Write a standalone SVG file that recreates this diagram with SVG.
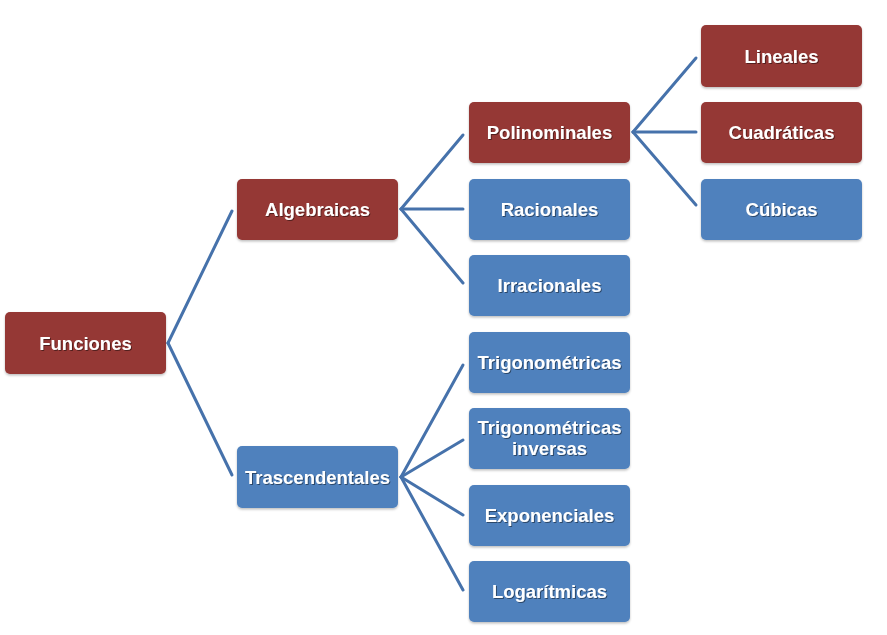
<svg xmlns="http://www.w3.org/2000/svg" width="887" height="635" viewBox="0 0 887 635">
<defs>
<filter id="ts" x="-10%" y="-30%" width="120%" height="160%">
<feDropShadow dx="1" dy="1" stdDeviation="0.6" flood-color="#000" flood-opacity="0.45"/>
</filter>
<filter id="bs" x="-5%" y="-10%" width="110%" height="125%">
<feDropShadow dx="0" dy="1.5" stdDeviation="1.2" flood-color="#000" flood-opacity="0.25"/>
</filter>
</defs>
<style>
.red{fill:#953735}
.blue{fill:#4F81BD}
rect{filter:url(#bs)}
text{font-family:"Liberation Sans",Arial,sans-serif;font-weight:bold;font-size:18.5px;fill:#fff;text-anchor:middle;filter:url(#ts)}
.c line{stroke:#4672AB;stroke-width:3;stroke-linecap:round}
</style>
<rect width="887" height="635" fill="#fff" style="filter:none"/>
<g class="c" id="connectors">
<line x1="168" y1="343" x2="232" y2="211"/>
<line x1="168" y1="343" x2="232" y2="475"/>
<line x1="401" y1="209" x2="463" y2="135"/>
<line x1="401" y1="209" x2="463" y2="209"/>
<line x1="401" y1="209" x2="463" y2="283"/>
<line x1="401" y1="477" x2="463" y2="365"/>
<line x1="401" y1="477" x2="463" y2="440"/>
<line x1="401" y1="477" x2="463" y2="515"/>
<line x1="401" y1="477" x2="463" y2="590"/>
<line x1="633" y1="132" x2="696" y2="58"/>
<line x1="633" y1="132" x2="696" y2="132"/>
<line x1="633" y1="132" x2="696" y2="205"/>
</g>
<g id="funciones"><rect class="red" x="5" y="312" width="161" height="62" rx="5"/><text x="85.5" y="349.5">Funciones</text></g>
<g id="algebraicas"><rect class="red" x="237" y="179" width="161" height="61" rx="5"/><text x="317.5" y="215.5">Algebraicas</text></g>
<g id="trascendentales"><rect class="blue" x="237" y="446" width="161" height="62" rx="5"/><text x="317.5" y="483.5">Trascendentales</text></g>
<g id="polinominales"><rect class="red" x="469" y="102" width="161" height="61" rx="5"/><text x="549.5" y="138.5">Polinominales</text></g>
<g id="racionales"><rect class="blue" x="469" y="179" width="161" height="61" rx="5"/><text x="549.5" y="215.5">Racionales</text></g>
<g id="irracionales"><rect class="blue" x="469" y="255" width="161" height="61" rx="5"/><text x="549.5" y="291.5">Irracionales</text></g>
<g id="trigonometricas"><rect class="blue" x="469" y="332" width="161" height="61" rx="5"/><text x="549.5" y="368.5">Trigonométricas</text></g>
<g id="trigonometricas-inversas"><rect class="blue" x="469" y="408" width="161" height="61" rx="5"/><text x="549.5" y="434">Trigonométricas</text><text x="549.5" y="454.5">inversas</text></g>
<g id="exponenciales"><rect class="blue" x="469" y="485" width="161" height="61" rx="5"/><text x="549.5" y="521.5">Exponenciales</text></g>
<g id="logaritmicas"><rect class="blue" x="469" y="561" width="161" height="61" rx="5"/><text x="549.5" y="597.5">Logarítmicas</text></g>
<g id="lineales"><rect class="red" x="701" y="25" width="161" height="62" rx="5"/><text x="781.5" y="62.5">Lineales</text></g>
<g id="cuadraticas"><rect class="red" x="701" y="102" width="161" height="61" rx="5"/><text x="781.5" y="138.5">Cuadráticas</text></g>
<g id="cubicas"><rect class="blue" x="701" y="179" width="161" height="61" rx="5"/><text x="781.5" y="215.5">Cúbicas</text></g>
</svg>
